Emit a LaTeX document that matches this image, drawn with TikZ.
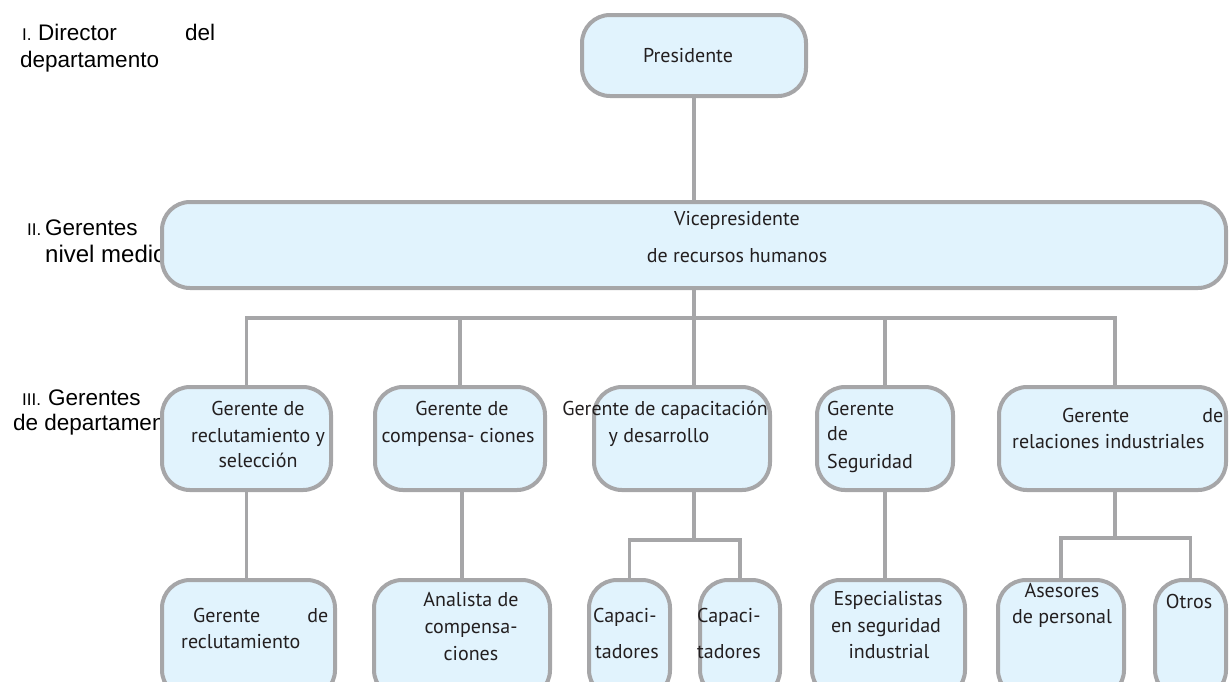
\documentclass[tikz,border=0pt]{standalone}
\usepackage{fontspec}
\setmainfont{PT Sans}
\newfontfamily\labelfont{Liberation Sans}
\definecolor{bordergray}{HTML}{A6A6A8}
\definecolor{boxfill}{HTML}{E1F3FD}
\definecolor{txtcol}{HTML}{231F20}
\begin{document}
\begin{tikzpicture}[x=1pt,y=-1pt,
 box/.style={draw=bordergray,line width=4pt,fill=boxfill,rounded corners=28pt,inner sep=0pt},
 conn/.style={draw=bordergray,line width=3.5pt},
 txt/.style={anchor=base,inner sep=0pt,font=\fontsize{20}{22}\selectfont,text=txtcol},
 txtw/.style={txt,anchor=base west},
 lbl/.style={anchor=base west,inner sep=0pt,font=\labelfont\fontsize{22.5}{24}\selectfont},
 num/.style={anchor=base west,inner sep=0pt,font=\labelfont\fontsize{17}{18}\selectfont}]
\useasboundingbox (0,0) rectangle (1230,681);
\clip (0,0) rectangle (1230,681);
% level labels
\node[num] (n1) at (22,40) {I.};
\node[lbl] (l1a) at (38,40) {Director};
\node[lbl] (l1b) at (185,40) {del};
\node[lbl] (l1c) at (20,67) {departamento};
\node[num] (n2) at (27,235) {II.};
\node[lbl] (l2a) at (45,235) {Gerentes};
\node[lbl,font=\labelfont\fontsize{24}{26}\selectfont] (l2b) at (45,262) {nivel medio};
\node[num] (n3) at (22,405) {III.};
\node[lbl] (l3a) at (48,405) {Gerentes};
\node[lbl] (l3b) at (13,430) {de departamento};
% junctions
\coordinate (j1) at (694,318);
\coordinate (jc) at (694,540);
\coordinate (je) at (1115,538);
% boxes
\node[box,minimum width=224pt,minimum height=81pt] (pres) at (694,55.5) {};
\node[box,minimum width=1064pt,minimum height=86pt] (vp) at (694,245) {};
\node[box,minimum width=169pt,minimum height=103pt] (a) at (246.5,438.5) {};
\node[box,minimum width=170pt,minimum height=103pt] (b) at (460,438.5) {};
\node[box,minimum width=176pt,minimum height=103pt] (c) at (682,438.5) {};
\node[box,minimum width=136pt,minimum height=103pt] (d) at (885,438.5) {};
\node[box,minimum width=227pt,minimum height=103pt] (e) at (1112.5,438.5) {};
\node[box,minimum width=173pt,minimum height=118pt] (a2) at (248.5,639) {};
\node[box,minimum width=176pt,minimum height=118pt] (b2) at (462,639) {};
\node[box,minimum width=81pt,minimum height=118pt] (c1) at (629.5,639) {};
\node[box,minimum width=80pt,minimum height=118pt] (c2) at (740,639) {};
\node[box,minimum width=153pt,minimum height=118pt] (d2) at (888.5,639) {};
\node[box,minimum width=126pt,minimum height=118pt] (e1) at (1061,639) {};
\node[box,minimum width=71pt,minimum height=118pt] (e2) at (1190.5,639) {};
% connectors
\draw[conn] (pres.south) -- (vp.north);
\draw[conn] (vp.south) -- (j1);
\draw[conn] (a.north) |- (j1);
\draw[conn] (b.north) |- (j1);
\draw[conn] (j1) -- (j1 |- c.north);
\draw[conn] (d.north) |- (j1);
\draw[conn] (e.north -| je) |- (j1);
\draw[conn] (a.south) -- (a.south |- a2.north);
\draw[conn] (b.south -| b2.north) -- (b2.north);
\draw[conn] (jc |- c.south) -- (jc);
\draw[conn] (c1.north) |- (jc) -| (c2.north);
\draw[conn] (d.south) -- (d.south |- d2.north);
\draw[conn] (je |- e.south) -- (je);
\draw[conn] (e1.north) |- (je) -| (e2.north);
% texts
\node[txt] (tp) at (688,62) {Presidente};
\node[txt] (tv1) at (737,225) {Vicepresidente};
\node[txt] (tv2) at (737,262) {de recursos humanos};
\node[txt] (ta1) at (258,415) {Gerente de};
\node[txt] (ta2) at (258,442) {reclutamiento y};
\node[txt] (ta3) at (258,467) {selección};
\node[txt] (tb1) at (462,415) {Gerente de};
\node[txt] (tb2) at (458,442) {compensa- ciones};
\node[txt] (tc1) at (665,415) {Gerente de capacitación};
\node[txt] (tc2) at (659,442) {y desarrollo};
\node[txtw] (td1) at (827,415) {Gerente};
\node[txtw] (td2) at (827,440) {de};
\node[txtw] (td3) at (827,468) {Seguridad};
\node[txtw] (te1) at (1062,422) {\makebox[161pt][s]{Gerente\hfill de}};
\node[txtw] (te2) at (1012,448) {relaciones industriales};
\node[txtw] (ta21) at (193,622) {\makebox[135pt][s]{Gerente\hfill de}};
\node[txtw] (ta22) at (181,648) {reclutamiento};
\node[txt] (tb21) at (471,606) {Analista de};
\node[txt] (tb22) at (471,633) {compensa-};
\node[txt] (tb23) at (471,660) {ciones};
\node[txtw] (tc11) at (593,622) {Capaci-};
\begin{scope}
\clip (580,630) rectangle (680,660);
\node[txtw] (tc12) at (595,658) {tadores};
\end{scope}
\node[txtw] (tc21) at (697,622) {Capaci-};
\node[txtw] (tc22) at (697,658) {tadores};
\node[txt] (td21) at (888,605) {Especialistas};
\node[txt] (td22) at (886,632) {en seguridad};
\node[txt] (td23) at (889,658) {industrial};
\node[txt] (te11) at (1062,597) {Asesores};
\node[txt] (te12) at (1062,623) {de personal};
\node[txt] (te21) at (1189,608) {Otros};
\end{tikzpicture}
\end{document}
